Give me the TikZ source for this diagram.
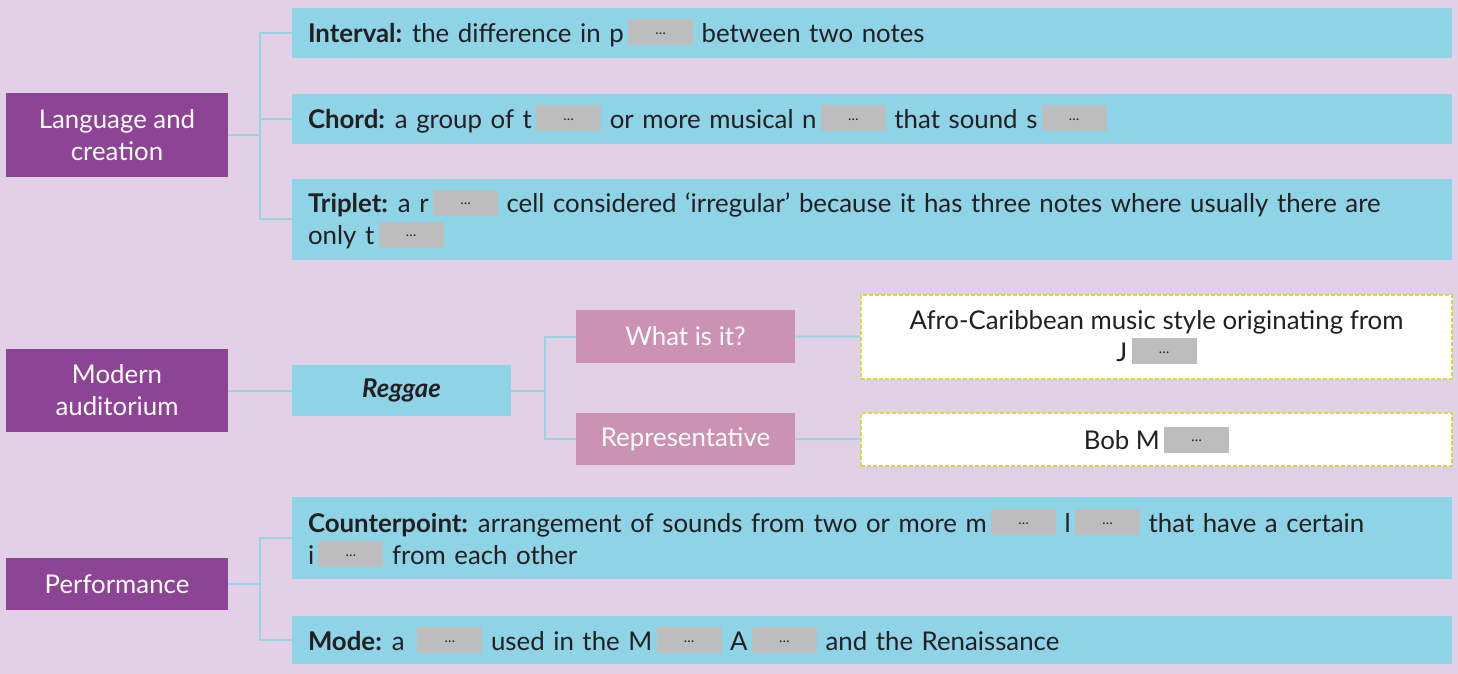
\documentclass[tikz,border=0pt]{standalone}
\usepackage{fontspec}
\setmainfont{Lato}
\usetikzlibrary{positioning}
\definecolor{bgcol}{HTML}{E2D1E6}
\definecolor{topicpurple}{HTML}{8E4494}
\definecolor{factblue}{HTML}{8ED3E6}
\definecolor{askpink}{HTML}{CB92B4}
\definecolor{gapgray}{HTML}{BDBDBD}
\definecolor{dashgreen}{HTML}{D3DC3E}
\definecolor{linkblue}{HTML}{9AD3E2}
\definecolor{textdark}{HTML}{231F20}
\newcommand{\gapbox}{\,{\setlength{\fboxsep}{0pt}\colorbox{gapgray}{\makebox[32.5pt]{\rule[-1.5pt]{0pt}{13pt}\raisebox{4pt}{\fontsize{7}{8}\selectfont\dots}}}}}
\newcommand{\term}[1]{\textbf{#1}\hspace{-1.5pt}}
\tikzstyle{topic} = [rectangle, minimum width=111pt, inner sep=0pt, align=center, fill=topicpurple, text=white]
\tikzstyle{fact} = [rectangle, text width=564pt, inner xsep=8pt, inner ysep=0pt, align=left, fill=factblue, text=textdark]
\tikzstyle{question} = [rectangle, minimum width=109.5pt, inner sep=0pt, fill=askpink, text=white]
\tikzstyle{answer} = [rectangle, minimum width=295.5pt, inner sep=0pt, align=center, fill=white, draw=dashgreen, line width=1.2pt, dash pattern=on 2pt off 1pt, text=textdark]
\tikzstyle{link} = [draw=linkblue, line width=1pt]

\begin{document}
\begin{tikzpicture}[x=0.5pt, y=-0.5pt, font=\fontsize{12.9}{16}\selectfont]
        \fill[bgcol] (0,0) rectangle (1458,674);
        % topics
        \node (lang) [topic, minimum height=42pt] at (117,135) {Language and\\creation};
        \node (modern) [topic, minimum height=41.5pt] at (117,390.5) {Modern\\auditorium};
        \node (perf) [topic, minimum height=26pt] at (117,584) {Performance};
        % facts
        \node (interval) [fact, minimum height=25pt] at (872,33) {\term{Interval:} the difference in p\gapbox{} between two notes};
        \node (chord) [fact, minimum height=25pt] at (872,119) {\term{Chord:} a group of t\gapbox{} or more musical n\gapbox{} that sound s\gapbox};
        \node (triplet) [fact, minimum height=40.5pt] at (872,219.5) {\term{Triplet:} a r\gapbox{} cell considered ‘irregular’ because it has three notes where usually there are\\only t\gapbox};
        \node (counter) [fact, minimum height=41pt] at (872,538) {\term{Counterpoint:} arrangement of sounds from two or more m\gapbox{} l\gapbox{} that have a certain\\i\gapbox{} from each other};
        \node (mode) [fact, minimum height=24pt] at (872,640) {\term{Mode:} a \gapbox{} used in the M\gapbox{} A\gapbox{} and the Renaissance};
        % reggae branch
        \node (reggae) [rectangle, minimum width=109.5pt, minimum height=25.5pt, fill=factblue, text=textdark, font=\fontsize{12.9}{16}\selectfont\bfseries\itshape] at (401.5,390.5) {Reggae};
        \node (what) [question, minimum height=26.5pt] at (685.5,336.5) {What is it?};
        \node (rep) [question, minimum height=26pt] at (685.5,439) {Representative};
        \node (afro) [answer, minimum height=42pt] at (1156.5,337) {Afro-Caribbean music style originating from\\J\gapbox};
        \node (bob) [answer, minimum height=26.5pt] at (1156.5,439.5) {Bob M\gapbox};
        % links
        \draw [link] (lang.east) -- ++(16pt,0) |- (interval.west);
        \draw [link] (lang.east) -- ++(16pt,0) |- (chord.west);
        \draw [link] (lang.east) -- ++(16pt,0) |- (triplet.west);
        \draw [link] (modern) -- (reggae);
        \draw [link] (reggae.east) -- ++(17pt,0) |- (what.west);
        \draw [link] (reggae.east) -- ++(17pt,0) |- (rep.west);
        \draw [link] (what) -- (afro);
        \draw [link] (rep) -- (bob);
        \draw [link] (perf.east) -- ++(16pt,0) |- (counter.west);
        \draw [link] (perf.east) -- ++(16pt,0) |- (mode.west);
    \end{tikzpicture}
\end{document}
